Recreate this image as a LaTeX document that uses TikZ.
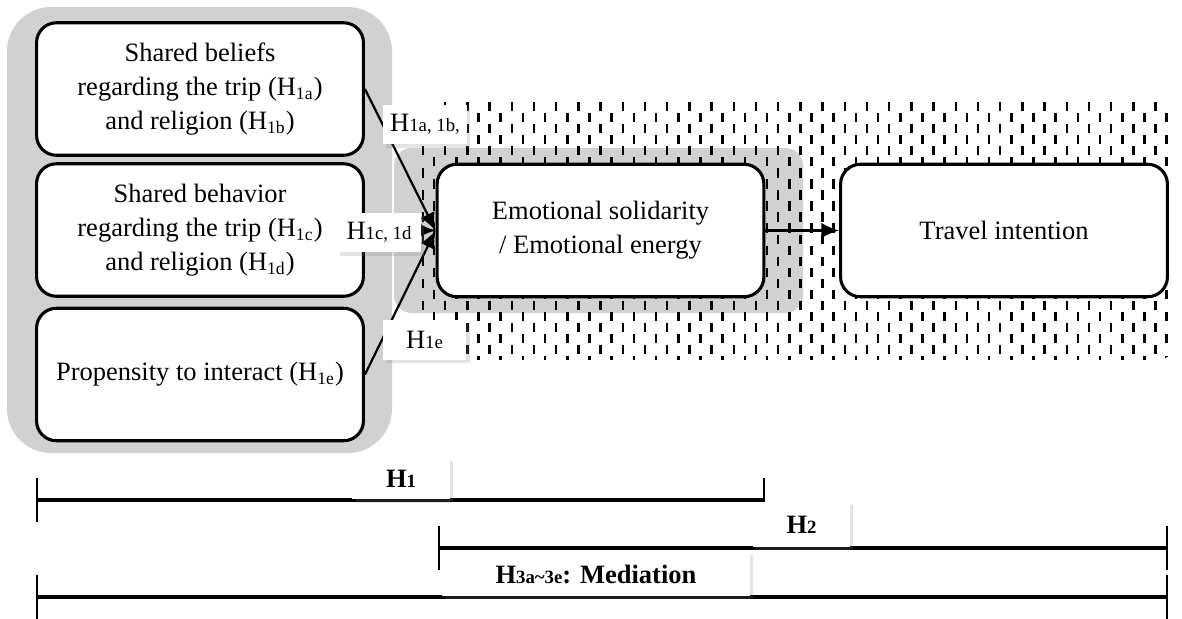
\documentclass[tikz,border=0pt]{standalone}
\usepackage{fontspec}
\setmainfont{Liberation Serif}
\usetikzlibrary{arrows.meta,shadows}
\newcommand{\hsub}[1]{{\fontsize{8.5}{10}\selectfont #1}}

\begin{document}
\begin{tikzpicture}[x=0.015914cm, y=-0.015914cm]
        \tikzset{factor/.style = {shape=rectangle,draw,line width=1.4pt,rounded corners=9pt,fill=white,align=center,minimum width=148pt,minimum height=60pt,font=\fontsize{12}{15.5}\selectfont}}
        \tikzset{tag/.style = {shape=rectangle,fill=white,inner sep=0pt,minimum width=38pt,minimum height=18pt,font=\fontsize{12}{14}\selectfont,drop shadow={shadow xshift=1.5pt,shadow yshift=-1.5pt,opacity=0.22}}}
        \tikzset{edge/.style = {line width=1pt,-{Latex[length=8pt,width=7pt]}}}
        \tikzset{span/.style = {line width=1.4pt,{Bar[width=19.5pt,line width=0.9pt]}-{Bar[width=19.5pt,line width=0.9pt]}}}
        \tikzset{hatch/.style = {line width=1.15pt,dash pattern=on 4.2pt off 5.8pt}}
        \tikzset{panel/.style = {fill=black!18,draw=none}}

        \useasboundingbox (0,0) rectangle (1182,618);

        % shaded and hatched backgrounds
        \fill[panel,rounded corners=8pt] (394,148) rectangle (803,313);
        \begin{scope}
            \clip[rounded corners=8pt] (418,102) rectangle (1175,360);
            \foreach \x in {423,445.2,...,1176} \draw[hatch] (\x,102) -- (\x,360);
            \foreach \x in {434.1,456.3,...,1176} \draw[hatch,dash phase=5pt] (\x,102) -- (\x,360);
        \end{scope}
        \fill[panel,rounded corners=20pt] (7,7) rectangle (392,453);

        \node[factor] (F1) at (200, 89) {Shared beliefs\\regarding the trip (H\textsubscript{1a})\\and religion (H\textsubscript{1b})};
        \node[factor] (F2) at (200, 230) {Shared behavior\\regarding the trip (H\textsubscript{1c})\\and religion (H\textsubscript{1d})};
        \node[factor] (F3) at (200, 374.5) {Propensity to interact (H\textsubscript{1e})};

        \node[factor] (EMO) at (600.5, 230.5) {Emotional solidarity\\/ Emotional energy};
        \node[factor] (TRV) at (1004, 230.5) {Travel intention};

        \draw[edge] (F1.east) -- (EMO.west);
        \draw[edge] (F2.east) -- (EMO.west);
        \draw[edge] (F3.east) -- (EMO.west);
        \draw[edge] (EMO) -- (TRV);

        \node[tag] (L1) at (425, 124.5) {H\hsub{1a, 1b,}};
        \node[tag] (L2) at (379, 232.5) {H\hsub{1c, 1d}};
        \node[tag] (L3) at (424.5, 340) {H\hsub{1e}};

        % hypothesis spans
        \coordinate (H1s) at (36, 500);
        \coordinate (H1e) at (765, 500);
        \coordinate (H2s) at (438, 548);
        \coordinate (H2e) at (1168, 548);
        \coordinate (H3s) at (36, 597);
        \coordinate (H3e) at (1168, 597);

        \draw[span] (H1s) -- (H1e);
        \draw[span] (H2s) -- (H2e);
        \draw[span] (H3s) -- (H3e);

        \node[tag,minimum width=44pt,minimum height=19pt] (T1) at (401, 478.5) {\textbf{H\hsub{1}}};
        \node[tag,minimum width=44pt,minimum height=20.5pt] (T2) at (801.5, 524.5) {\textbf{H\hsub{2}}};
        \node[tag,minimum width=139.5pt,minimum height=20pt] (T3) at (596, 574) {\textbf{H\hsub{3a\textasciitilde3e}: Mediation}};
    \end{tikzpicture}
\end{document}
